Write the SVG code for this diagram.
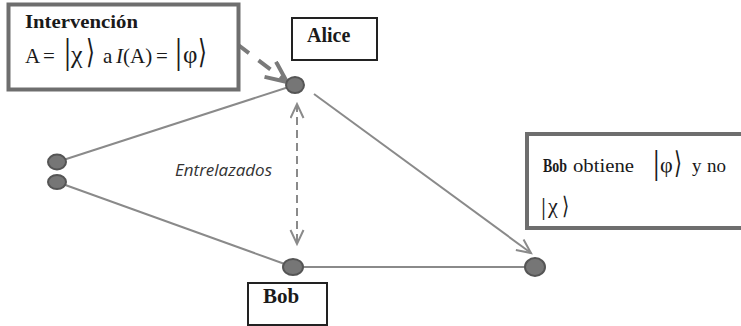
<svg xmlns="http://www.w3.org/2000/svg" width="741" height="326" viewBox="0 0 741 326">
<style>
.serif{font-family:"Liberation Serif","Times New Roman",serif;fill:#1a1a1a}
.b{font-weight:bold}
.br{font-family:"DejaVu Sans",sans-serif;font-weight:200;fill:#1a1a1a}
.node{fill:#767676;stroke:#555;stroke-width:2}
.edge{stroke:#8a8a8a;stroke-width:2;fill:none}
.gbox{fill:#fff;stroke:#6e6e6e;stroke-width:4}
.kbox{fill:#fff;stroke:#222;stroke-width:2}
.lbl{font-family:"Open Sans","Liberation Sans",sans-serif;font-style:italic;font-size:16px;fill:#333}
</style>
<defs>
<marker id="ah" markerUnits="userSpaceOnUse" markerWidth="18" markerHeight="16" refX="15" refY="7.5" orient="auto-start-reverse">
<path d="M1,1 L15,7.5 L1,14" fill="none" stroke="#8a8a8a" stroke-width="2" stroke-dasharray="none"/>
</marker>
<marker id="ahT" markerUnits="userSpaceOnUse" markerWidth="26" markerHeight="24" refX="22" refY="11" orient="auto">
<path d="M1,1.5 L22,11 L1,20.5" fill="none" stroke="#7a7a7a" stroke-width="4" stroke-dasharray="none"/>
</marker>
</defs>

<g id="connectors">
<line class="edge" x1="57" y1="162" x2="295" y2="85"/>
<line class="edge" x1="57" y1="182" x2="293" y2="267"/>
<line class="edge" x1="293" y1="267" x2="535" y2="267"/>
<line class="edge" x1="314" y1="94" x2="531" y2="253" marker-end="url(#ah)"/>
<line class="edge" x1="297" y1="104" x2="297" y2="244" stroke-width="1.6" stroke-dasharray="8,5" marker-start="url(#ah)" marker-end="url(#ah)"/>
<line x1="237" y1="44" x2="287" y2="82" stroke="#7a7a7a" stroke-width="4" stroke-dasharray="15,12" marker-end="url(#ahT)"/>
</g>

<g id="n-alice"><ellipse class="node" cx="295" cy="85" rx="9" ry="8"/></g>
<g id="n-left1"><ellipse class="node" cx="57" cy="162" rx="9" ry="7.5"/></g>
<g id="n-left2"><ellipse class="node" cx="57" cy="182" rx="9" ry="7"/></g>
<g id="n-bob"><ellipse class="node" cx="293" cy="267" rx="10" ry="8"/></g>
<g id="n-right"><ellipse class="node" cx="535" cy="267" rx="10" ry="9"/></g>

<g id="lbl-entrelazados"><text class="lbl" x="175" y="176" textLength="97" lengthAdjust="spacingAndGlyphs">Entrelazados</text></g>

<g id="box-intervencion">
<rect class="gbox" x="8.5" y="4.5" width="230" height="85"/>
<text class="serif b" x="25" y="28" font-size="18" textLength="113" lengthAdjust="spacingAndGlyphs">Intervención</text>
<text class="serif" x="25" y="63" font-size="21">A</text>
<text class="serif" x="43" y="63" font-size="21">=</text>
<text class="serif" x="64" y="63" font-size="35">|</text>
<text class="serif" x="71" y="63" font-size="26">χ</text>
<text class="br" transform="translate(86,63) scale(0.9,1.3)" font-size="25">⟩</text>
<text class="serif" x="103" y="63" font-size="21">a</text>
<text class="serif" x="116" y="63" font-size="21"><tspan font-style="italic">I</tspan>(A)</text>
<text class="serif" x="156" y="63" font-size="21">=</text>
<text class="serif" x="175" y="63" font-size="35">|</text>
<text class="serif" x="183" y="63" font-size="25">φ</text>
<text class="br" transform="translate(198,63) scale(0.9,1.3)" font-size="25">⟩</text>
</g>

<g id="box-alice">
<rect class="kbox" x="292" y="18" width="85" height="42"/>
<text class="serif b" x="307" y="42" font-size="20">Alice</text>
</g>

<g id="box-bob">
<rect class="kbox" x="248" y="283" width="79" height="42"/>
<text class="serif b" x="263" y="303" font-size="21">Bob</text>
</g>

<g id="box-bobobtiene">
<rect class="gbox" x="527" y="134" width="220" height="94"/>
<text class="serif b" x="543" y="172" font-size="18" textLength="24" lengthAdjust="spacingAndGlyphs">Bob</text>
<text class="serif" x="573" y="172" font-size="19" textLength="61" lengthAdjust="spacingAndGlyphs">obtiene</text>
<text class="serif" x="653" y="174" font-size="33">|</text>
<text class="serif" x="660" y="172" font-size="22">φ</text>
<text class="br" transform="translate(674,173) scale(0.85,1.25)" font-size="24">⟩</text>
<text class="serif" x="692" y="172" font-size="19">y</text>
<text class="serif" x="707" y="172" font-size="19">no</text>
<text class="serif" x="541" y="215" font-size="25">|</text>
<text class="serif" x="548" y="213" font-size="22">χ</text>
<text class="br" transform="translate(562,214) scale(0.85,1.1)" font-size="22">⟩</text>
</g>
</svg>
